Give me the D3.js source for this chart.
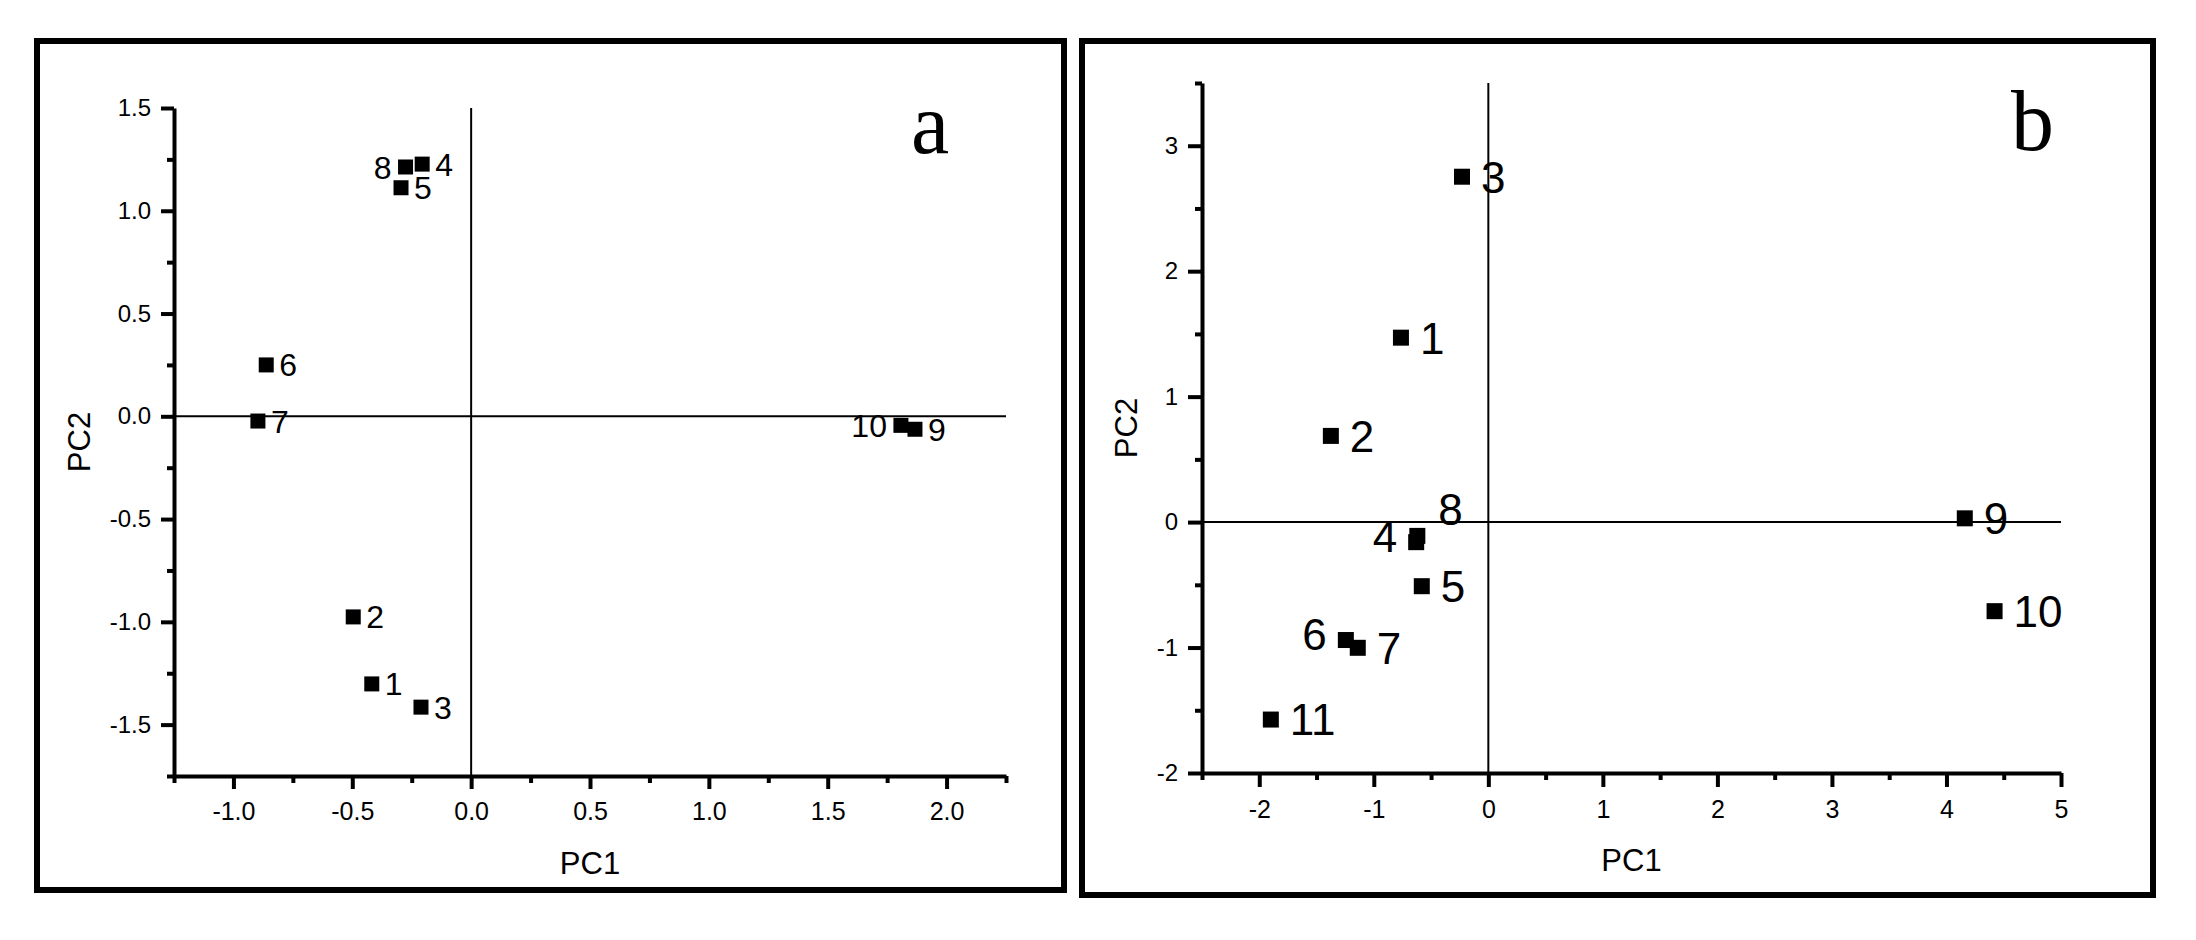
<!DOCTYPE html>
<html>
<head>
<meta charset="utf-8">
<script src="https://cdn.jsdelivr.net/npm/d3@7"></script>
<style>
  body { margin: 0; background: #fff; }
</style>
</head>
<body>
<div id="chart"></div>
<script>
// panel a: sample scores
var labelsA = ["1", "2", "3", "4", "5", "6", "7", "8", "9", "10"];
var pc1A = [-0.418, -0.496, -0.211, -0.206, -0.295, -0.862, -0.897, -0.276, 1.867, 1.808];
var pc2A = [-1.302, -0.976, -1.415, 1.227, 1.112, 0.25, -0.023, 1.213, -0.063, -0.044];
var xTicksA = [-1.0, -0.5, 0.0, 0.5, 1.0, 1.5, 2.0];
var yTicksA = [-1.5, -1.0, -0.5, 0.0, 0.5, 1.0, 1.5];
var leftLabelsA = ["8", "10"];

// panel b: sample scores
var labelsB = ["1", "2", "3", "4", "5", "6", "7", "8", "9", "10", "11"];
var pc1B = [-0.763, -1.375, -0.23, -0.63, -0.581, -1.244, -1.14, -0.62, 4.16, 4.42, -1.899];
var pc2B = [1.47, 0.687, 2.753, -0.16, -0.511, -0.94, -1.002, -0.11, 0.03, -0.71, -1.574];
var xTicksB = [-2, -1, 0, 1, 2, 3, 4, 5];
var yTicksB = [-2, -1, 0, 1, 2, 3];
var leftLabelsB = ["4", "6"];
var upperLabelsB = ["8"];

var svg = d3
  .select("#chart")
  .append("svg")
  .attr("width", 2196)
  .attr("height", 940)
  .style("background", "#fff");

function drawPanel(p) {
  var x = d3.scaleLinear().domain(p.xDomain).range([p.left, p.right]);
  var y = d3.scaleLinear().domain(p.yDomain).range([p.bottom, p.top]);

  // outer frame
  svg
    .append("rect")
    .attr("x", p.frame[0])
    .attr("y", p.frame[1])
    .attr("width", p.frame[2] - p.frame[0])
    .attr("height", p.frame[3] - p.frame[1])
    .attr("fill", "none")
    .attr("stroke", "#000")
    .attr("stroke-width", 6);

  // zero lines
  svg
    .append("line")
    .attr("x1", x(0))
    .attr("x2", x(0))
    .attr("y1", p.top)
    .attr("y2", p.bottom)
    .attr("stroke", "#000")
    .attr("stroke-width", 2);
  svg
    .append("line")
    .attr("x1", p.left)
    .attr("x2", p.right)
    .attr("y1", y(0))
    .attr("y2", y(0))
    .attr("stroke", "#000")
    .attr("stroke-width", 2);

  // minor ticks
  svg
    .append("g")
    .attr("transform", "translate(0," + p.bottom + ")")
    .call(d3.axisBottom(x).tickValues(p.xMinor).tickSize(7).tickFormat(""))
    .call(function (g) { g.select(".domain").remove(); })
    .selectAll("line")
    .attr("stroke-width", 4);
  svg
    .append("g")
    .attr("transform", "translate(" + p.left + ",0)")
    .call(d3.axisLeft(y).tickValues(p.yMinor).tickSize(7).tickFormat(""))
    .call(function (g) { g.select(".domain").remove(); })
    .selectAll("line")
    .attr("stroke-width", 4);

  // major axes
  var gx = svg
    .append("g")
    .attr("transform", "translate(0," + p.bottom + ")")
    .call(
      d3.axisBottom(x)
        .tickValues(p.xTicks)
        .tickSize(p.tickLen)
        .tickSizeOuter(0)
        .tickPadding(p.xPad)
        .tickFormat(p.fmt)
    );
  var gy = svg
    .append("g")
    .attr("transform", "translate(" + p.left + ",0)")
    .call(
      d3.axisLeft(y)
        .tickValues(p.yTicks)
        .tickSize(p.tickLen)
        .tickSizeOuter(0)
        .tickPadding(10)
        .tickFormat(p.fmt)
    );
  [gx, gy].forEach(function (g) {
    g.select(".domain").attr("stroke-width", 4);
    g.selectAll(".tick line").attr("stroke-width", 4);
    g.attr("font-family", "'Liberation Sans', Arial, sans-serif");
  });
  gx.attr("font-size", 25);
  gy.attr("font-size", 24);

  // axis titles
  svg
    .append("text")
    .attr("x", (p.left + p.right) / 2)
    .attr("y", p.bottom + 98)
    .attr("text-anchor", "middle")
    .attr("font-family", "'Liberation Sans', Arial, sans-serif")
    .attr("font-size", 31)
    .text("PC1");
  svg
    .append("text")
    .attr(
      "transform",
      "translate(" + p.yTitleX + "," + (p.top + p.bottom) / 2 + ") rotate(-90)"
    )
    .attr("text-anchor", "middle")
    .attr("font-family", "'Liberation Sans', Arial, sans-serif")
    .attr("font-size", 31)
    .text("PC2");

  // panel letter
  svg
    .append("text")
    .attr("x", p.letterX)
    .attr("y", p.letterY)
    .attr("font-family", "'Liberation Serif', 'Times New Roman', serif")
    .attr("font-size", 86)
    .text(p.letter);

  // points
  var pts = p.labels.map(function (d, i) {
    return { label: d, pc1: p.pc1[i], pc2: p.pc2[i] };
  });

  svg
    .append("g")
    .selectAll("rect")
    .data(pts)
    .enter()
    .append("rect")
    .attr("x", function (d) { return x(d.pc1) - p.mark / 2; })
    .attr("y", function (d) { return y(d.pc2) - p.mark / 2; })
    .attr("width", p.mark)
    .attr("height", p.mark)
    .attr("fill", "#000");

  svg
    .append("g")
    .selectAll("text")
    .data(pts)
    .enter()
    .append("text")
    .attr("font-family", "'Liberation Sans', Arial, sans-serif")
    .attr("font-size", p.labelSize)
    .attr("dy", "0.36em")
    .attr("text-anchor", function (d) {
      return p.leftLabels.indexOf(d.label) >= 0 ? "end" : "start";
    })
    .attr("x", function (d) {
      if (p.leftLabels.indexOf(d.label) >= 0) return x(d.pc1) - p.labelGapL;
      if (p.upperLabels.indexOf(d.label) >= 0) return x(d.pc1) + 21;
      return x(d.pc1) + p.labelGap;
    })
    .attr("y", function (d) {
      if (p.upperLabels.indexOf(d.label) >= 0) return y(d.pc2) - 27;
      if (p.leftLabels.indexOf(d.label) >= 0) return y(d.pc2) + p.leftDy;
      return y(d.pc2);
    })
    .text(function (d) { return d.label; });
}

drawPanel({
  labels: labelsA,
  pc1: pc1A,
  pc2: pc2A,
  xTicks: xTicksA,
  yTicks: yTicksA,
  xMinor: d3.range(-1.25, 2.3, 0.5),
  yMinor: d3.range(-1.75, 1.3, 0.5),
  xDomain: [-1.25, 2.25],
  yDomain: [-1.75, 1.5],
  left: 174,
  right: 1006,
  top: 108,
  bottom: 776,
  frame: [37, 41, 1064, 890],
  tickLen: 13,
  xPad: 13,
  fmt: function (d) { return d.toFixed(1); },
  yTitleX: 90,
  letter: "a",
  letterX: 911,
  letterY: 153,
  mark: 15,
  labelSize: 32,
  labelGap: 13,
  labelGapL: 14,
  leftDy: 0,
  leftLabels: leftLabelsA,
  upperLabels: []
});

drawPanel({
  labels: labelsB,
  pc1: pc1B,
  pc2: pc2B,
  xTicks: xTicksB,
  yTicks: yTicksB,
  xMinor: d3.range(-2.5, 5, 1),
  yMinor: d3.range(-1.5, 3.6, 1),
  xDomain: [-2.5, 5],
  yDomain: [-2, 3.5],
  left: 1202,
  right: 2061,
  top: 83,
  bottom: 773,
  frame: [1082, 41, 2153, 895],
  tickLen: 14,
  xPad: 13,
  fmt: function (d) { return String(d); },
  yTitleX: 1137,
  letter: "b",
  letterX: 2011,
  letterY: 150,
  mark: 16,
  labelSize: 44,
  labelGap: 19,
  labelGapL: 19,
  leftDy: -6,
  leftLabels: leftLabelsB,
  upperLabels: upperLabelsB
});
</script>
</body>
</html>
